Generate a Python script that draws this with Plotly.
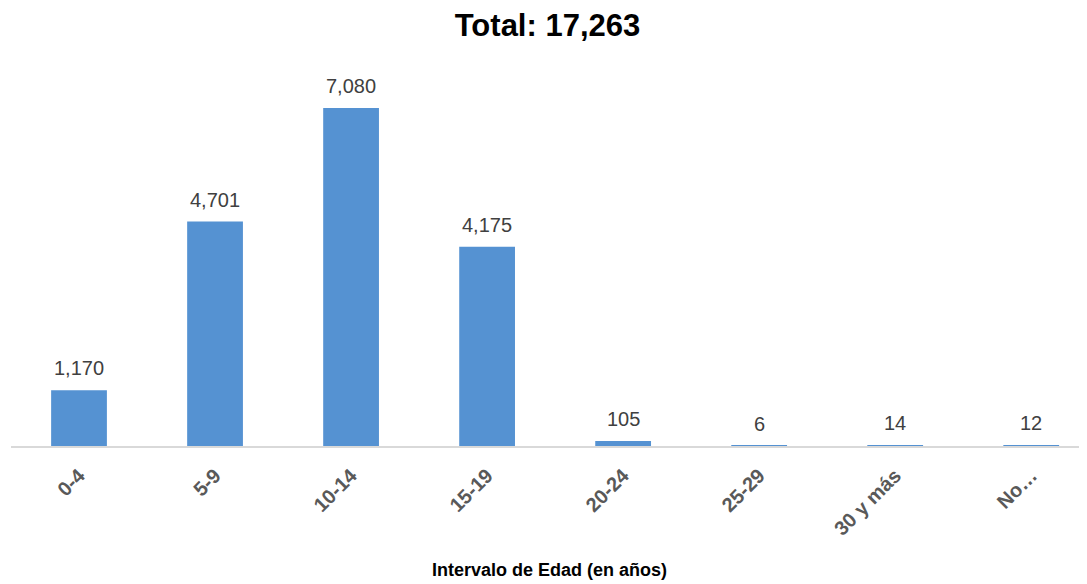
import plotly.graph_objects as go

categories = ["0-4", "5-9", "10-14", "15-19", "20-24", "25-29", "30 y más", "No…"]
values = [1170, 4701, 7080, 4175, 105, 6, 14, 12]
labels = [f"{v:,}" for v in values]

FONT = "Liberation Sans, Arial"
xpos = list(range(len(categories)))

fig = go.Figure(go.Bar(
    x=xpos,
    y=values,
    marker=dict(color="#5592d2", line=dict(width=0)),
    width=0.41,
    hoverinfo="x+y",
))

annotations = [
    dict(x=x, y=v, xref="x", yref="y", text=t, showarrow=False, xanchor="center", yanchor="bottom",
         yshift=9, font=dict(family=FONT, size=20, color="#404040"))
    for x, v, t in zip(xpos, values, labels)
]
annotations.append(dict(text="<b>Intervalo de Edad (en años)</b>", xref="paper", yref="paper",
                        x=0.5, y=-(562 - 438) / 386, xanchor="center", yanchor="middle", showarrow=False,
                        font=dict(family=FONT, size=18, color="#000000")))

fig.update_layout(
    width=1079, height=576,
    margin=dict(l=3, r=0, t=52, b=138),
    paper_bgcolor="white", plot_bgcolor="white",
    title=dict(text="<b>Total: 17,263</b>", x=0.5, xanchor="center", y=1 - 17 / 576, yanchor="middle",
               font=dict(family=FONT, size=31, color="#000000")),
    showlegend=False,
    xaxis=dict(
        tickmode="array", tickvals=xpos, ticktext=categories,
        range=[-0.5, 7.41], tickangle=-45, automargin=False,
        tickfont=dict(family=FONT, size=20, color="#595959", weight="bold"),
        ticklabelstandoff=8,
        showline=True, linecolor="#d9d9d9", linewidth=2, showgrid=False, zeroline=False, ticks="",
    ),
    yaxis=dict(range=[0, 8085], visible=False, showgrid=False, zeroline=False, automargin=False),
    annotations=annotations,
)

fig.write_html("out.html")
